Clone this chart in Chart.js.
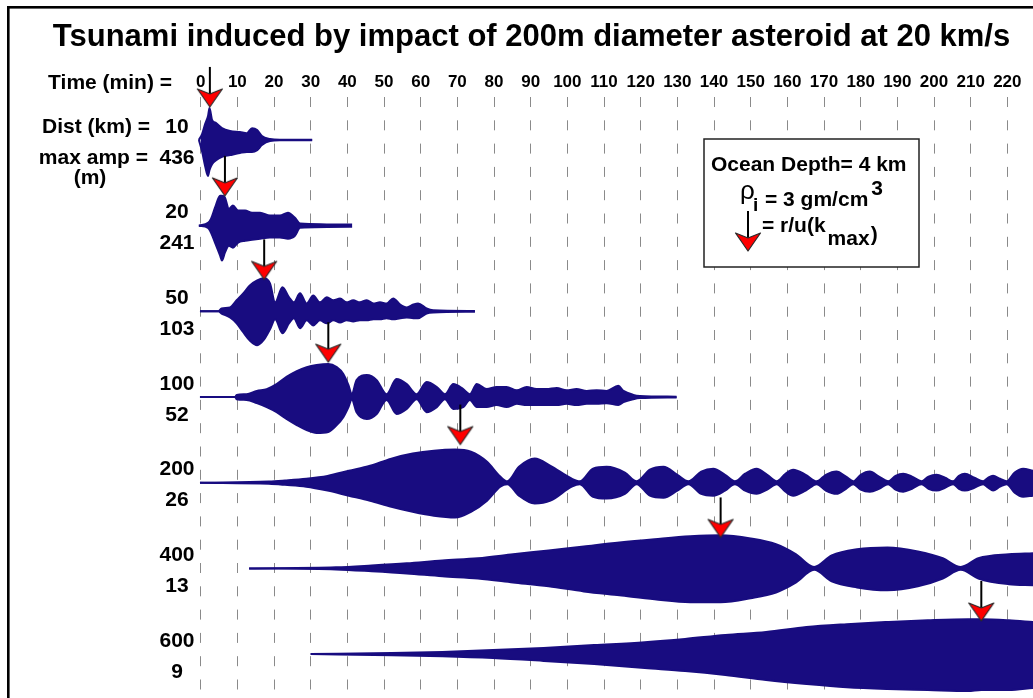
<!DOCTYPE html>
<html><head><meta charset="utf-8">
<script src="https://cdn.jsdelivr.net/npm/chart.js@4.4.1/dist/chart.umd.min.js"></script>
<style>html,body{margin:0;padding:0;background:#fff;overflow:hidden;}#c{display:block;}</style>
</head><body><canvas id="c" width="1033" height="698"></canvas>
<script>
// ---- data (times in minutes, amplitudes relative to the trace's max amplitude) ----
const tickMinutes = [0,10,20,30,40,50,60,70,80,90,100,110,120,130,140,150,160,170,180,190,200,210,220];
const distancesKm = [10,20,50,100,200,400,600];
const maxAmpM = [436,241,103,52,26,13,9];
const arrowTimes = [2.5, 6.6, 17.3, 34.8, 70.8, 141.8, 212.9];   // r/u(kmax)
const arrowAmp = [0.92, 0.83, 0.89, 0.97, 1.06, 0.86, 0.92];

const time10 = [-0.5,0.4,1.2,2.0,2.4,3.1,4.2,5.8,8.0,10.7,12.6,14.0,15.4,16.7,18.9,21.6,30.4];
const up10   = [0,.17,.44,.67,.89,.56,.47,.33,.25,.22,.19,.33,.28,.11,.03,.01,.01];
const down10 = [0,.33,.72,1.0,.83,.67,.56,.47,.42,.36,.33,.33,.28,.14,.03,.01,.01];

const time20 = [-0.5,2.0,2.8,3.9,5.3,5.8,6.6,7.7,8.8,10.2,12.1,14.0,16.2,18.9,21.6,23.8,25.7,27.1,41.3];
const up20   = [0,.08,.19,.5,.83,.83,.78,.47,.56,.42,.42,.36,.36,.28,.28,.36,.22,.06,.03];
const down20 = [0,.06,.19,.47,.83,.97,.75,.56,.61,.47,.42,.39,.36,.33,.33,.36,.28,.06,.03];

const time50 = [-0.2,4.8,5.7,8.0,9.8,11.6,13.4,15.4,17.3,18.9,20.3,22.3,24.1,25.4,27.1,28.9,30.7,32.5,34.4,36.2,38.0,39.8,41.6,43.4,45.3,47.1,48.9,50.7,52.5,54.4,56.2,58.0,59.3,61.6,63.4,74.8];
const up50   = [0,0,.08,.11,.31,.5,.72,.86,.92,.78,.25,.67,.39,.25,.5,.22,.44,.25,.39,.31,.36,.25,.31,.25,.31,.22,.25,.22,.36,.19,.11,.19,.22,.08,.03,.01];
const down50 = [0,0,.06,.17,.33,.58,.81,.94,.78,.5,.22,.61,.33,.19,.47,.25,.39,.25,.33,.25,.31,.25,.28,.25,.25,.22,.22,.19,.22,.19,.17,.19,.19,.06,.03,.01];

const time100 = [-0.2,9.4,9.8,12.5,15.3,18.0,20.7,23.4,26.2,28.9,31.6,34.8,37.1,38.9,40.3,41.2,42.5,45.3,48.0,50.7,53.4,56.2,58.9,61.6,64.4,66.6,68.9,71.6,73.4,75.3,78.0,80.7,83.4,86.2,88.9,91.6,94.3,97.1,99.8,102.5,105.3,108.0,110.7,113.9,115.3,118.0,119.8,129.8];
const up100   = [0,0,.06,.08,.17,.22,.36,.56,.72,.83,.89,.92,.83,.64,.33,.08,.47,.61,.47,.08,.5,.36,.08,.42,.28,.08,.36,.22,.08,.36,.22,.28,.28,.19,.28,.22,.22,.25,.19,.22,.17,.19,.17,.31,.17,.06,.03,.01];
const down100 = [0,0,.06,.08,.17,.28,.42,.61,.78,.92,1.0,.97,.78,.56,.28,.06,.42,.61,.47,.08,.47,.33,.06,.42,.28,.06,.33,.28,.08,.28,.28,.22,.28,.19,.22,.22,.22,.22,.19,.22,.19,.19,.17,.22,.14,.06,.03,.01];

const time200 = [-0.2,18.6,23.0,28.8,34.6,40.4,46.2,52.0,57.8,63.6,69.4,73.7,78.1,81.7,83.6,86.8,91.1,95.4,101.2,103.4,107.0,110.7,115.7,118.9,122.5,126.2,130.0,133.0,136.5,139.8,143.0,145.7,148.5,151.6,154.5,157.1,159.5,161.6,165.0,168.0,170.5,173.4,176.0,178.0,180.0,182.5,185.0,187.5,189.5,191.6,194.0,196.6,198.5,200.7,203.0,205.2,206.8,208.4,211.0,213.4,214.8,216.1,218.0,219.8,222.0,224.3,227.0];
const up200   = [0,.03,.06,.11,.19,.33,.47,.67,.81,.89,.92,.86,.58,.17,.04,.44,.67,.47,.11,.04,.39,.44,.28,.04,.36,.44,.22,.04,.31,.39,.22,.04,.25,.39,.22,.04,.25,.36,.22,.04,.22,.31,.17,.04,.22,.31,.17,.04,.19,.25,.17,.04,.17,.22,.14,.04,.19,.25,.14,.04,.14,.19,.11,.04,.28,.39,.33];
const down200 = [0,.03,.06,.11,.22,.36,.5,.67,.81,.92,.97,.81,.5,.11,.04,.36,.58,.5,.11,.04,.39,.44,.31,.04,.36,.42,.22,.04,.31,.36,.22,.04,.22,.31,.19,.04,.25,.36,.22,.04,.22,.31,.17,.04,.19,.25,.17,.04,.19,.25,.17,.04,.17,.22,.14,.04,.17,.22,.14,.04,.14,.22,.11,.04,.28,.39,.36];

const time400 = [13.2,36.9,46.6,56.2,65.9,75.6,85.2,94.9,104.5,114.2,123.8,133.5,141.8,150.0,156.9,162.4,167.3,172.1,179.0,187.3,195.6,202.4,207.3,212.1,220.4,227.0];
const up400   = [0,.03,.08,.14,.22,.28,.39,.5,.61,.72,.81,.89,.92,.83,.67,.39,.04,.36,.53,.58,.47,.28,.04,.28,.39,.42];
const down400 = [0,.03,.08,.14,.22,.28,.39,.5,.64,.75,.86,.94,.94,.83,.67,.39,.04,.36,.53,.61,.5,.28,.04,.28,.44,.47];

const time600 = [30.0,52.1,65.9,79.7,93.5,107.3,121.1,132.1,143.1,154.2,165.2,176.2,187.3,198.3,209.3,212.9,220.4,227.0];
const up600   = [0,.03,.06,.11,.17,.25,.33,.42,.53,.61,.75,.83,.89,.94,.97,.97,.94,.89];
const down600 = [0,.03,.06,.11,.19,.28,.39,.47,.58,.72,.83,.92,.97,1.0,1.03,1.0,1.0,.94];

// ---- chart ----
const traces = [
  {t: time10, up: up10, dn: down10},
  {t: time20, up: up20, dn: down20},
  {t: time50, up: up50, dn: down50},
  {t: time100, up: up100, dn: down100},
  {t: time200, up: up200, dn: down200},
  {t: time400, up: up400, dn: down400},
  {t: time600, up: up600, dn: down600}
];
const NAVY = '#180c80';
const AMP = 0.42;          // display height of unit amplitude, in trace spacings
const FONT = '"Liberation Sans", Arial, Helvetica, sans-serif';
Chart.defaults.font.family = FONT;

// arrow marker (tip at image centre)
const arrowImg = document.createElement('canvas');
arrowImg.width = 28; arrowImg.height = 84;
(function(){
  const g = arrowImg.getContext('2d');
  g.strokeStyle = '#000'; g.lineWidth = 2;
  g.beginPath(); g.moveTo(14, 2); g.lineTo(14, 29); g.stroke();
  g.beginPath(); g.moveTo(1.5, 24); g.lineTo(14, 29); g.lineTo(26.5, 24); g.lineTo(14, 42); g.closePath();
  g.fillStyle = '#ff0000'; g.fill();
  g.strokeStyle = '#2a2a2a'; g.lineWidth = 1.2; g.lineJoin = 'round'; g.stroke();
})();

const datasets = [];
traces.forEach((tr, i) => {
  datasets.push({
    data: tr.t.map((t, k) => ({x: t, y: i - tr.up[k] * AMP})),
    borderColor: NAVY, backgroundColor: NAVY, borderWidth: 2,
    pointRadius: 0, fill: false, cubicInterpolationMode: 'monotone', clip: false
  });
  datasets.push({
    data: tr.t.map((t, k) => ({x: t, y: i + tr.dn[k] * AMP})),
    borderColor: NAVY, backgroundColor: NAVY, borderWidth: 2,
    pointRadius: 0, fill: '-1', cubicInterpolationMode: 'monotone', clip: false
  });
});
datasets.push({
  type: 'scatter',
  data: arrowTimes.map((t, i) => ({x: t, y: i - arrowAmp[i] * AMP})),
  pointStyle: arrowImg, pointRadius: 10, clip: false, order: -1
});

const annot = {
  id: 'annot',
  afterDraw(chart) {
    const ctx = chart.ctx, ys = chart.scales.y;
    ctx.save();
    // frame
    ctx.fillStyle = '#000';
    ctx.fillRect(7, 6, 1026, 2.6);
    ctx.fillRect(7, 6, 2.6, 692);
    // axis caption
    ctx.font = 'bold 21px ' + FONT;
    ctx.textBaseline = 'middle';
    ctx.textAlign = 'right';
    ctx.fillText('Time (min) =', 172, 83);
    // per-trace labels
    distancesKm.forEach((d, i) => {
      const yb = ys.getPixelForValue(i);
      ctx.textAlign = 'center';
      ctx.fillText(String(d), 177, yb - 13);
      ctx.fillText(String(maxAmpM[i]), 177, yb + 18);
      if (i === 0) {
        ctx.textAlign = 'right';
        ctx.fillText('Dist (km) =', 150, yb - 13);
        ctx.fillText('max amp =', 148, yb + 18);
        ctx.textAlign = 'center';
        ctx.fillText('(m)', 90, yb + 38);
      }
    });
    // info box
    ctx.fillStyle = '#fff';
    ctx.fillRect(704, 139, 215, 128);
    ctx.strokeStyle = '#222'; ctx.lineWidth = 1.5;
    ctx.strokeRect(704, 139, 215, 128);
    ctx.fillStyle = '#000';
    ctx.textAlign = 'left';
    ctx.textBaseline = 'alphabetic';
    ctx.font = 'bold 21px ' + FONT;
    ctx.fillText('Ocean Depth= 4 km', 711, 171);
    ctx.font = '26px ' + FONT;
    ctx.fillText('\u03C1', 740, 199);
    ctx.font = 'bold 19px ' + FONT;
    ctx.fillText('i', 753, 211);
    ctx.font = 'bold 21px ' + FONT;
    let s = '= 3 gm/cm';
    ctx.fillText(s, 765, 206);
    let xe = 765 + ctx.measureText(s).width + 3;
    ctx.fillText('3', xe, 195);
    ctx.drawImage(arrowImg, 748 - 14, 251 - 42);
    s = '= r/u(k';
    ctx.fillText(s, 762, 232);
    xe = 762 + ctx.measureText(s).width + 2;
    ctx.fillText('max', xe, 245);
    xe += ctx.measureText('max').width + 1;
    ctx.fillText(')', xe, 241);
    ctx.restore();
  }
};

new Chart(document.getElementById('c'), {
  type: 'line',
  data: {datasets},
  options: {
    responsive: false, maintainAspectRatio: false, animation: false, events: [],
    devicePixelRatio: 1,
    layout: {autoPadding: false, padding: {left: 30, right: 0, top: 0, bottom: 0}},
    plugins: {
      legend: {display: false}, tooltip: {enabled: false},
      title: {
        display: true,
        text: 'Tsunami induced by impact of 200m diameter asteroid at 20 km/s',
        color: '#000', font: {size: 31, weight: 'bold', family: FONT, lineHeight: 1.2},
        padding: {top: 19, bottom: 0}
      }
    },
    scales: {
      x: {
        type: 'linear', position: 'top', min: 0, max: 227,
        afterFit: s => { s.height = 97 - 19 - 31 * 1.2; },
        afterBuildTicks: s => { s.ticks = tickMinutes.map(v => ({value: v})); },
        ticks: {autoSkip: false, maxRotation: 0, color: '#000', padding: 4,
                font: {size: 17, weight: 'bold', family: FONT},
                callback: v => String(v)},
        grid: {display: true, drawTicks: false, color: '#8a8a8a', lineWidth: 1},
        border: {display: false, dash: [10, 13.3], dashOffset: 0}
      },
      y: {
        type: 'linear', reverse: true, min: -0.502, max: 6.513,
        afterFit: s => { s.width = 170.7; },
        ticks: {display: false}, grid: {display: false}, border: {display: false}
      }
    }
  },
  plugins: [annot]
});
</script></body></html>
